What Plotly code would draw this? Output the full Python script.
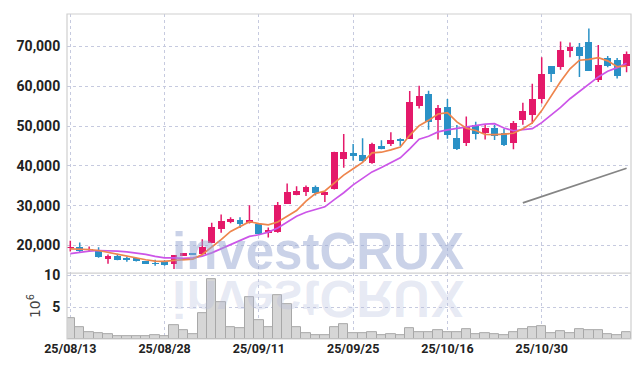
import plotly.graph_objects as go

dates = ["25/08/13","25/08/14","25/08/18","25/08/19","25/08/20","25/08/21","25/08/22","25/08/25","25/08/26","25/08/27",
         "25/08/28","25/08/29","25/09/01","25/09/02","25/09/03","25/09/04","25/09/05","25/09/08","25/09/09","25/09/10",
         "25/09/11","25/09/12","25/09/15","25/09/16","25/09/17","25/09/18","25/09/19","25/09/22","25/09/23","25/09/24",
         "25/09/25","25/09/26","25/09/29","25/09/30","25/10/01","25/10/02","25/10/10","25/10/13","25/10/14","25/10/15",
         "25/10/16","25/10/17","25/10/20","25/10/21","25/10/22","25/10/23","25/10/24","25/10/27","25/10/28","25/10/29",
         "25/10/30","25/10/31","25/11/03","25/11/04","25/11/05","25/11/06","25/11/07","25/11/10","25/11/11","25/11/12"]

open_ = [19500,19580,18900,18590,16610,17350,16780,16900,16110,15620,
         15790,15300,17430,18080,17920,20740,24200,25940,26510,25690,
         25520,23040,23370,30540,32770,33440,34600,32770,34260,41680,
         43170,42840,40690,45070,45400,46800,46800,55100,58190,51580,
         54720,47050,45810,50270,48290,49530,48290,45640,51420,52820,
         56700,65120,64950,68910,69900,71060,61490,67100,66600,65200]
high = [21200,20740,19750,19580,17770,17920,17280,16950,16150,16440,
        16290,17650,18160,18160,21560,25700,27820,27100,27100,30150,
        25520,24530,30960,35570,34920,35100,35100,33600,43590,48040,
        45490,46980,45810,46480,48460,46980,58830,60170,58860,55300,
        56780,50270,52420,51090,50270,50270,49370,51260,55890,60660,
        67270,65120,71230,70990,70890,74530,70390,67590,67100,68750]
low = [18500,18270,18420,16930,15450,16290,15940,16000,15400,14950,
       14950,14100,17350,17600,17770,20570,23220,25600,24380,25520,
       22700,22050,23200,30470,32620,32450,32600,30960,34100,39550,
       41360,41040,40540,44160,45000,45000,46800,54400,49100,46630,
       46800,44000,45000,46630,46630,46500,44990,44160,50350,50600,
       55710,61080,64130,67270,62320,63960,61080,64790,61980,63550]
close = [19600,18760,19080,17100,17350,16360,16610,16110,15450,15450,
         15300,17600,18080,17770,19750,24700,26260,26760,25350,26510,
         22870,23860,30150,33440,33760,34600,33270,33440,43590,43590,
         42670,41190,45570,44330,46480,46140,55950,57690,50940,54480,
         47870,44330,49700,48120,49530,47470,45150,50760,53730,56870,
         63140,63140,69080,69900,67600,63960,65370,65200,62650,68090]

ma5 = [19160,19160,19010,18760,18270,17770,17280,16930,16440,16110,
       16040,16290,16360,16610,17770,19580,21490,23540,24850,26010,
       25520,25200,25900,27400,28800,31150,33050,33700,35730,37700,
       39300,40900,43300,43450,44050,44750,47700,50100,51450,53050,
       53400,51050,49450,48900,47900,47850,48000,48200,49350,50800,
       53900,57500,61200,64400,66550,66750,67200,66400,64950,65050]
ma10 = [17970,18340,18590,18760,18760,18590,18420,18170,17770,17280,
        16930,16930,16780,16930,17350,18170,19210,20250,21190,22300,
        22720,23370,24400,25970,27370,28360,29060,29730,31550,33260,
        35240,36970,38510,39600,40870,42030,44300,46720,47460,48540,
        49060,49380,49790,50170,50480,50610,49530,48840,49110,49350,
        50880,52760,54700,56880,58680,60330,62360,63800,64690,65810]
ma60 = [None]*48 + [30720,31510,32300,33100,33890,34680,35470,36270,37060,37850,38640,39430]

volume = [3.2,1.9,1.08,0.88,0.72,0.52,0.41,0.41,0.41,0.57,
          0.46,2.1,1.34,0.77,4.07,9.4,5.8,1.8,1.65,6.5,
          2.9,1.9,6.9,5.5,1.9,0.88,0.57,0.6,1.8,2.4,
          0.88,0.88,1.03,0.57,0.72,0.57,1.65,1.08,1.0,1.34,
          1.03,1.03,1.5,0.8,0.88,0.73,0.62,1.13,1.5,1.9,
          2.05,0.88,1.18,0.88,1.5,1.34,1.34,0.73,0.62,1.03]

xtick_labels = ["25/08/13","25/08/28","25/09/11","25/09/25","25/10/16","25/10/30"]
price_ticks = [20000,30000,40000,50000,60000,70000]
vol_ticks = [5,10]

UP = "#e4196a"
DOWN = "#2a91c6"
GRID = "#c6cadf"
YFONT = dict(family="Roboto, sans-serif", size=14, color="#222", weight="bold")
XFONT = dict(family="Roboto, sans-serif", size=12.5, color="#222", weight="bold")

# candle bodies and wicks derived from the OHLC lists
is_up = [c >= o for o, c in zip(open_, close)]
body_base = [min(o, c) for o, c in zip(open_, close)]
body_h = [max(abs(c - o), 80) for o, c in zip(open_, close)]
body_col = [UP if u else DOWN for u in is_up]

def wick_xy(up_flag):
    xs, ys = [], []
    for d, h, l, u in zip(dates, high, low, is_up):
        if u == up_flag:
            xs += [d, d, None]
            ys += [l, h, None]
    return xs, ys

fig = go.Figure()
fig.add_trace(go.Bar(x=dates, y=volume, xaxis="x", yaxis="y2", width=1.0, offset=-0.5,
                     marker=dict(color="#d6d6d6", line=dict(color="#a8a8a8", width=1)),
                     showlegend=False, hoverinfo="skip"))
for flag, col in [(True, UP), (False, DOWN)]:
    wx, wy = wick_xy(flag)
    fig.add_trace(go.Scatter(x=wx, y=wy, mode="lines", line=dict(color=col, width=1.5),
                             xaxis="x", yaxis="y", showlegend=False, hoverinfo="skip"))
fig.add_trace(go.Bar(x=dates, y=body_h, base=body_base, width=0.72, offset=-0.36,
                     marker=dict(color=body_col, line=dict(width=0)),
                     xaxis="x", yaxis="y", showlegend=False))
fig.add_trace(go.Scatter(x=dates, y=ma10, mode="lines", line=dict(color="#cc55e8", width=1.7),
                         xaxis="x", yaxis="y", showlegend=False))
fig.add_trace(go.Scatter(x=dates, y=ma5, mode="lines", line=dict(color="#ee854d", width=1.7),
                         xaxis="x", yaxis="y", showlegend=False))
fig.add_trace(go.Scatter(x=dates, y=ma60, mode="lines", line=dict(color="#858585", width=1.7),
                         xaxis="x", yaxis="y", showlegend=False, connectgaps=False))

VSPLIT = 0.2026
fig.update_layout(
    width=639, height=366,
    margin=dict(l=67, r=8, t=9, b=27),
    paper_bgcolor="white", plot_bgcolor="white",
    barmode="overlay", bargap=0,
    xaxis=dict(type="category", anchor="y2", range=[-0.35, 59.47],
               tickmode="array", tickvals=xtick_labels, ticktext=xtick_labels,
               tickfont=XFONT, showgrid=True, gridcolor=GRID, griddash="dot", gridwidth=1,
               ticks="", zeroline=False, showline=False),
    yaxis=dict(domain=[VSPLIT, 1], range=[13070, 78160], anchor="x",
               tickmode="array", tickvals=price_ticks, tickformat=",",
               tickfont=YFONT, showgrid=True, gridcolor=GRID, griddash="dot",
               ticks="outside", ticklen=3, tickcolor="rgba(0,0,0,0)", zeroline=False),
    yaxis2=dict(domain=[0, VSPLIT], range=[0, 10.34], anchor="x",
                tickmode="array", tickvals=vol_ticks, tickfont=YFONT,
                showgrid=True, gridcolor=GRID, griddash="dot",
                ticks="outside", ticklen=3, tickcolor="rgba(0,0,0,0)", zeroline=False,
                title=dict(text="10<sup>6</sup>", font=dict(family="DejaVu Sans", size=14, color="#444"), standoff=0)),
    shapes=[
        dict(type="rect", xref="paper", yref="paper", x0=0, x1=1, y0=0, y1=1,
             line=dict(color="#cfcfcf", width=1.2), layer="above"),
        dict(type="line", xref="paper", yref="paper", x0=0, x1=1, y0=VSPLIT, y1=VSPLIT,
             line=dict(color="#cfcfcf", width=1.2), layer="above"),
    ],
    annotations=[
        dict(text="investCRUX", xref="paper", yref="paper", x=0.4453, y=0.176, xanchor="center", yanchor="bottom",
             showarrow=False, font=dict(family="Liberation Sans", size=51, color="rgba(150,165,210,0.5)", weight="bold")),
        dict(text="investCRUX", xref="paper", yref="paper", x=0.4453, y=0.218, xanchor="center", yanchor="top",
             showarrow=False, font=dict(family="Liberation Sans", size=51, color="rgba(180,188,220,0.32)", weight="bold")),
    ],
)

post = """
var gd = document.getElementById('{plot_id}');
function flipWM(){
  var t = gd.querySelector('g.annotation[data-index="1"] text.annotation-text');
  if(!t) return;
  var b = t.getBBox();
  var cy = b.y + b.height/2;
  t.setAttribute('transform', 'translate(0,' + (2*cy) + ') scale(1,-1)');
}
flipWM();
gd.on('plotly_afterplot', flipWM);
"""
fig.write_html("out.html", post_script=post)
